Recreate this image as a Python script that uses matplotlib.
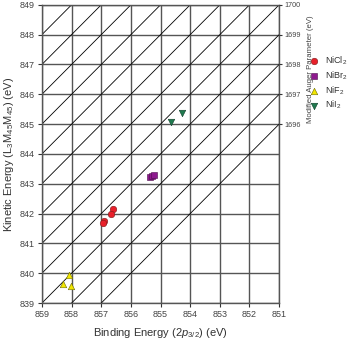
import numpy as np
import matplotlib
matplotlib.use("Agg")
import matplotlib.pyplot as plt

plt.rcParams['font.family'] = ['Liberation Sans', 'DejaVu Sans']
plt.rcParams['mathtext.fontset'] = 'custom'
plt.rcParams['mathtext.rm'] = 'Liberation Sans'
plt.rcParams['mathtext.it'] = 'Liberation Sans:italic'

# binding energy (2p3/2) and kinetic energy (L3M45M45), eV
be_nicl2 = [856.59, 856.68, 856.91, 856.93]
ke_nicl2 = [842.14, 841.99, 841.76, 841.67]
be_nibr2 = [855.35, 855.29, 855.23]
ke_nibr2 = [843.22, 843.25, 843.28]
be_nif2 = [858.09, 858.28, 858.02]
ke_nif2 = [839.94, 839.63, 839.56]
be_nii2 = [854.64, 854.28]
ke_nii2 = [845.08, 845.37]

auger_lines = list(range(1696, 1708))
auger_ticks = [1696, 1697, 1698, 1699, 1700]

fig = plt.figure(figsize=(3.52, 3.46), dpi=100)
ax = fig.add_axes([0.119, 0.124, 0.674, 0.862])

be_min, be_max = 851, 859
ke_min, ke_max = 839, 849

# constant Auger parameter lines: KE = alpha - BE
bb = np.array([be_min, be_max])
for a in auger_lines:
    ax.plot(bb, a - bb, color='black', lw=0.6, zorder=1)

for v in range(be_min, be_max + 1):
    ax.axvline(v, color='#555555', lw=1.0, zorder=0.5)
for v in range(ke_min, ke_max + 1):
    ax.axhline(v, color='#555555', lw=1.0, zorder=0.5)

ms = 22
ax.scatter(be_nicl2, ke_nicl2, s=ms, marker='o', color='#e8202a',
           edgecolor='#7a1a1a', lw=0.4, zorder=3, label='NiCl$_2$')
ax.scatter(be_nibr2, ke_nibr2, s=ms, marker='s', color='#8e1a8e',
           edgecolor='#4a0d4a', lw=0.4, zorder=3, label='NiBr$_2$')
ax.scatter(be_nif2, ke_nif2, s=ms, marker='^', color='#f2e600',
           edgecolor='#6a6a00', lw=0.4, zorder=3, label='NiF$_2$')
ax.scatter(be_nii2, ke_nii2, s=ms, marker='v', color='#1f7a4f',
           edgecolor='#0f3d28', lw=0.4, zorder=3, label='NiI$_2$')

ax.set_xlim(be_max, be_min)
ax.set_ylim(ke_min, ke_max)
ax.set_xticks(range(be_max, be_min - 1, -1))
ax.set_yticks(range(ke_min, ke_max + 1))
ax.tick_params(direction='out', length=3, width=0.8, labelsize=6.5,
               colors='#333333', labelcolor='#444444', pad=2)
for s in ax.spines.values():
    s.set_color('#555555')
    s.set_linewidth(1.0)

ax.set_xlabel('Binding Energy (2$\\mathit{p}_{3/2}$) (eV)', fontsize=8,
              color='#333333', labelpad=5)
ax.set_ylabel('Kinetic Energy (L$_3$M$_{45}$M$_{45}$) (eV)', fontsize=8,
              color='#333333', labelpad=3)

# right axis: modified Auger parameter
ax2 = ax.twinx()
ax2.set_ylim(ke_min, ke_max)
ax2.set_yticks([a - be_min for a in auger_ticks])
ax2.set_yticklabels([str(a) for a in auger_ticks])
ax2.tick_params(direction='out', length=2.5, width=0.8, labelsize=5.2,
                colors='#333333', labelcolor='#444444', pad=1)
for s in ax2.spines.values():
    s.set_visible(False)
fig.text(0.882, 0.80, 'Modified Auger Parameter (eV)', rotation=90,
         fontsize=5.6, color='#444444', ha='center', va='center')

ax.legend(loc='upper left', bbox_to_anchor=(1.118, 0.845), frameon=False,
          fontsize=6.5, handletextpad=0.8, labelspacing=0.25,
          borderaxespad=0, scatterpoints=1, labelcolor='#333333',
          handlelength=0.8)

fig.savefig('out.png', dpi=100)
